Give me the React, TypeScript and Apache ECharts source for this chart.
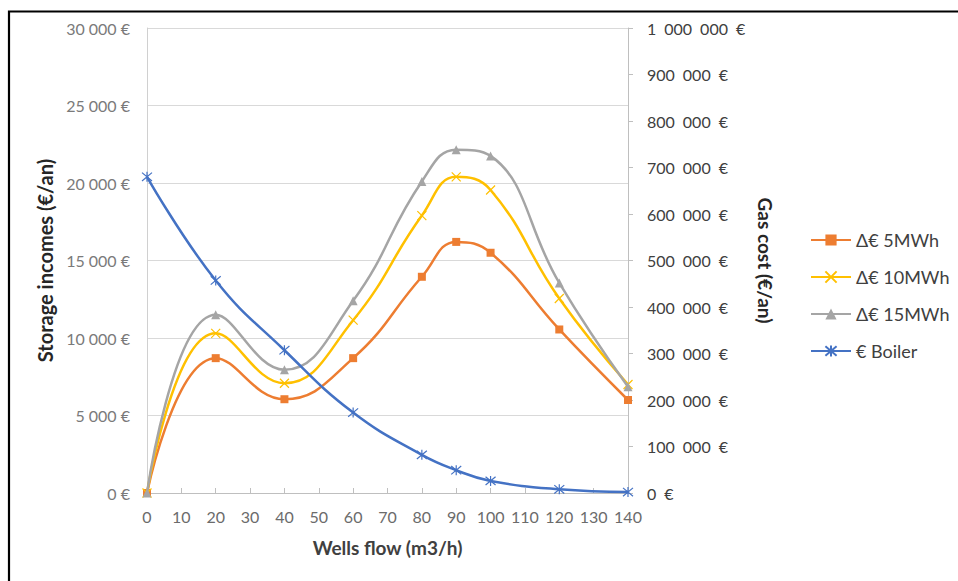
import React, { useEffect, useRef } from "react";
import * as echarts from "echarts";

const flow = [0, 20, 40, 60, 80, 90, 100, 120, 140];
const delta5 = [0, 8700, 6050, 8700, 13950, 16200, 15500, 10550, 6000];
const delta10 = [0, 10300, 7080, 11150, 17900, 20400, 19550, 12550, 7000];
const delta15 = [0, 11500, 7950, 12400, 20100, 22150, 21750, 13550, 6850];
const boiler = [680000, 457000, 307000, 173000, 82000, 49000, 26000, 8000, 2000];

const seriesNames = ["Δ€ 5MWh", "Δ€ 10MWh", "Δ€ 15MWh", "€ Boiler"];
const colors = ["#ED7D31", "#FFC000", "#A5A5A5", "#4472C4"];

const FONT = "Lato, 'Open Sans', sans-serif";

function fmtLeft(v: number): string {
  return String(v).replace(/\B(?=(\d{3})+(?!\d))/g, " ") + " €";
}
function fmtRight(v: number): string {
  return String(v).replace(/\B(?=(\d{3})+(?!\d))/g, "\u2002") + "\u2002€";
}

const pairs = (ys: number[]) => flow.map((x, i) => [x, ys[i]]);

export default function App() {
  const ref = useRef<HTMLDivElement>(null);
  useEffect(() => {
    if (!ref.current) return;
    const chart = echarts.init(ref.current, undefined, { renderer: "svg" });
    const mk = (i: number, data: number[], yAxisIndex: number, symbol: string, symbolSize: number) => ({
      name: seriesNames[i],
      type: "line",
      yAxisIndex,
      data: pairs(data),
      smooth: 0.45,
      symbol,
      symbolSize,
      lineStyle: { color: colors[i], width: 2.5 },
      itemStyle: { color: colors[i], borderColor: colors[i], borderWidth: symbol.startsWith("path") ? 1.2 : 0 },
      z: 2 + i,
    });
    chart.setOption({
      animation: false,
      backgroundColor: "#ffffff",
      textStyle: { fontFamily: FONT },
      graphic: [
        {
          type: "rect",
          shape: { x: 9, y: 11.5, width: 1200, height: 1200 },
          style: { fill: "none", stroke: "#000000", lineWidth: 2.2 },
          silent: true,
        },
      ],
      grid: { left: 147, top: 28, right: 330, bottom: 88, containLabel: false },
      legend: {
        orient: "vertical",
        left: 810,
        top: 231,
        padding: 0,
        itemWidth: 40,
        itemHeight: 14,
        itemGap: 19,
        textStyle: { fontSize: 18, lineHeight: 18, color: "#404040", fontFamily: FONT },
        data: seriesNames,
      },
      xAxis: {
        type: "value",
        min: 0,
        max: 140,
        interval: 10,
        name: "Wells flow (m3/h)",
        nameLocation: "middle",
        nameGap: 45,
        nameTextStyle: { fontSize: 19, fontWeight: "bold", color: "#404040", fontFamily: FONT },
        axisLine: { show: true, lineStyle: { color: "#bfbfbf", width: 1 } },
        axisTick: { show: true, inside: true, length: 5, lineStyle: { color: "#bfbfbf" } },
        axisLabel: { fontSize: 16, color: "#6b6b6b", margin: 15, fontFamily: FONT },
        splitLine: { show: false },
      },
      yAxis: [
        {
          type: "value",
          position: "left",
          min: 0,
          max: 30000,
          interval: 5000,
          name: "Storage incomes (€/an)",
          nameLocation: "middle",
          nameGap: 91,
          nameTextStyle: { fontSize: 20, fontWeight: "bold", color: "#262626", fontFamily: FONT },
          axisLine: { show: true, lineStyle: { color: "#d0d0d0", width: 1 } },
          axisTick: { show: false },
          axisLabel: { fontSize: 16, color: "#7a7a7a", margin: 17, formatter: fmtLeft, fontFamily: FONT },
          splitLine: { show: true, lineStyle: { color: "#d9d9d9", width: 1 } },
        },
        {
          type: "value",
          position: "right",
          min: 0,
          max: 1000000,
          interval: 100000,
          name: "Gas cost (€/an)",
          nameLocation: "middle",
          nameGap: 127,
          nameRotate: -90,
          nameTextStyle: { fontSize: 19, fontWeight: "bold", color: "#262626", fontFamily: FONT },
          axisLine: { show: true, lineStyle: { color: "#bfbfbf", width: 1 } },
          axisTick: { show: true, length: 5, lineStyle: { color: "#bfbfbf" } },
          axisLabel: { fontSize: 16, color: "#404040", margin: 19, formatter: fmtRight, fontFamily: FONT },
          splitLine: { show: false },
        },
      ],
      series: [
        mk(0, delta5, 0, "rect", 8),
        mk(1, delta10, 0, "path://M0,0L10,10M10,0L0,10", 9),
        mk(2, delta15, 0, "triangle", 9),
        mk(3, boiler, 1, "path://M0,0L10,10M10,0L0,10M5,-1L5,11", 10),
      ],
    });
    return () => chart.dispose();
  }, []);
  return (
    <div
      ref={ref}
      style={{ position: "fixed", left: 0, top: 0, width: 958, height: 581, background: "#fff" }}
    />
  );
}
